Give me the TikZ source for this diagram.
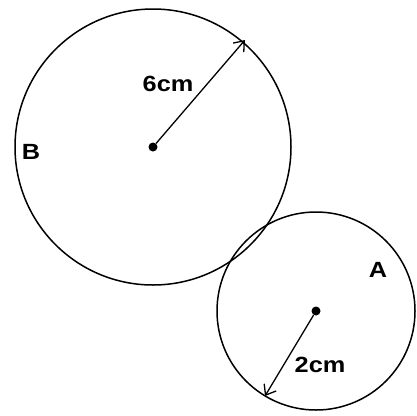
\documentclass[tikz,border=0pt]{standalone}
\usepackage{fontspec}
\setmainfont{Liberation Sans}
\newfontfamily\lblfont[FakeStretch=1.15]{Liberation Sans}
\usetikzlibrary{arrows.meta}
\begin{document}
\begin{tikzpicture}[x=1pt,y=-1pt,
  circ/.style={draw, line width=1.5pt},
  dotnode/.style={circle, fill=black, inner sep=0pt, minimum size=9pt},
  lbl/.style={font=\lblfont\bfseries\fontsize{22}{26}\selectfont, inner sep=0pt},
  radarrow/.style={line width=1.3pt, -{Straight Barb[length=9pt,width=14pt]}}]
\useasboundingbox (0,0) rectangle (417,415);
\node[dotnode] (cB) at (153,147) {};
\node[dotnode] (cA) at (316,311) {};
\draw[circ] (cB.center) circle (138);
\draw[circ] (cA.center) circle (99);
\coordinate (eB) at (245,40);
\coordinate (eA) at (265,396);
\draw[radarrow] (cB) -- (eB);
\draw[radarrow] (cA) -- (eA);
\node[lbl] (l6) at (168,84) {6cm};
\node[lbl] (l2) at (320,365) {2cm};
\node[lbl] (lB) at (31,152) {B};
\node[lbl] (lA) at (378,270) {A};
\end{tikzpicture}
\end{document}
